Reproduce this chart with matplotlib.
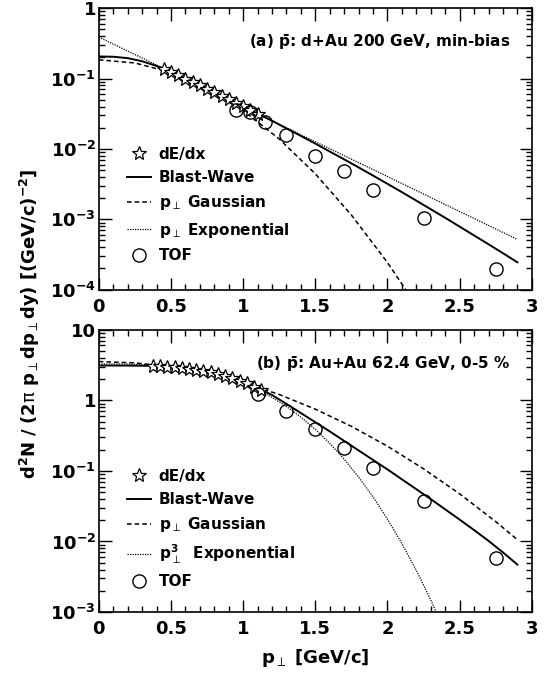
import matplotlib
matplotlib.use("Agg")
import matplotlib.pyplot as plt
from matplotlib.lines import Line2D
from matplotlib.ticker import NullFormatter, MultipleLocator

plt.rcParams['font.family'] = ['DejaVu Sans']
plt.rcParams['mathtext.fontset'] = 'dejavusans'
plt.rcParams['mathtext.default'] = 'regular'

# ---------------- Panel (a): d+Au 200 GeV ----------------
a_dedx_x = [0.45, 0.50, 0.55, 0.60, 0.65, 0.70, 0.75, 0.80, 0.85, 0.90, 0.95, 1.00, 1.05, 1.10]
a_dedx_y = [0.1365, 0.1236, 0.1109, 0.0995, 0.0891, 0.0798, 0.0713, 0.0637, 0.0569, 0.0507,
            0.0452, 0.0403, 0.0358, 0.0318]
a_tof_x = [0.95, 1.05, 1.15, 1.30, 1.50, 1.70, 1.90, 2.25, 2.75]
a_tof_y = [0.036, 0.034, 0.0238, 0.0159, 0.00782, 0.0048, 0.00258, 0.00106, 0.000199]
a_bw_x = [0.0, 0.1, 0.2, 0.3, 0.4, 0.5, 0.6, 0.7, 0.8, 0.9, 1.0, 1.1, 1.2, 1.3, 1.4, 1.5,
          1.6, 1.7, 1.8, 1.9, 2.0, 2.1, 2.2, 2.3, 2.4, 2.5, 2.6, 2.7, 2.8, 2.9]
a_bw_y = [0.206, 0.204, 0.195, 0.176, 0.151, 0.124, 0.0995, 0.0798, 0.0637, 0.0507, 0.0403,
          0.0318, 0.0251, 0.0196, 0.0153, 0.0119, 0.00918, 0.00710, 0.00546, 0.00418, 0.00319,
          0.00243, 0.00184, 0.00139, 0.00105, 0.000787, 0.000590, 0.000442, 0.000330, 0.000245]
a_gaus_x = [0.0, 0.25, 0.5, 0.75, 1.0, 1.25, 1.5, 1.75, 2.0, 2.25]
a_gaus_y = [0.1845, 0.1664, 0.1219, 0.0726, 0.0352, 0.01384, 0.00443, 0.00115, 0.000243, 0.0000418]
a_expo_x = [0.0, 0.5, 1.0, 1.5, 2.0, 2.5, 2.9]
a_expo_y = [0.388, 0.124, 0.0396, 0.01265, 0.00405, 0.00129, 0.000518]

# ---------------- Panel (b): Au+Au 62.4 GeV 0-5% ----------------
b_dedx_x = [0.375, 0.425, 0.475, 0.525, 0.575, 0.625, 0.675, 0.725, 0.775, 0.825, 0.875,
            0.925, 0.975, 1.025, 1.075, 1.125]
b_dedx_y = [3.10, 3.07, 3.01, 2.96, 2.89, 2.81, 2.72, 2.61, 2.49, 2.36, 2.21, 2.06, 1.90,
            1.74, 1.57, 1.42]
b_tof_x = [1.1, 1.3, 1.5, 1.7, 1.9, 2.25, 2.75]
b_tof_y = [1.23, 0.715, 0.393, 0.211, 0.1086, 0.0373, 0.00585]
b_bw_x = [0.0, 0.2, 0.4, 0.5, 0.6, 0.7, 0.8, 0.9, 1.0, 1.1, 1.2, 1.3, 1.4, 1.5, 1.6, 1.7,
          1.8, 1.9, 2.0, 2.1, 2.2, 2.3, 2.4, 2.5, 2.6, 2.7, 2.8, 2.9]
b_bw_y = [3.12, 3.11, 3.08, 2.99, 2.85, 2.66, 2.43, 2.14, 1.82, 1.50, 1.19, 0.891, 0.661,
          0.490, 0.363, 0.266, 0.195, 0.143, 0.105, 0.0759, 0.0550, 0.0398, 0.0285, 0.0204,
          0.0145, 0.0102, 0.0070, 0.0047]
b_gaus_x = [0.0, 0.25, 0.5, 0.75, 1.0, 1.25, 1.5, 1.75, 2.0, 2.25, 2.5, 2.75, 2.9]
b_gaus_y = [3.55, 3.40, 2.99, 2.41, 1.78, 1.21, 0.750, 0.428, 0.224, 0.107, 0.0473, 0.0191, 0.0106]
b_expo_x = [0.0, 0.2, 0.4, 0.6, 0.8, 1.0, 1.1, 1.2, 1.3, 1.4, 1.5, 1.6, 1.7, 1.8, 1.9, 2.0,
            2.1, 2.2, 2.3, 2.4]
b_expo_y = [3.29, 3.27, 3.16, 2.87, 2.38, 1.75, 1.42, 1.10, 0.818, 0.578, 0.388, 0.246, 0.147,
            0.0818, 0.0428, 0.0207, 0.00933, 0.00388, 0.00148, 0.000519]

x_ticks = [0, 0.5, 1, 1.5, 2, 2.5, 3]
x_labels = ['0', '0.5', '1', '1.5', '2', '2.5', '3']
a_yticks = [1e-4, 1e-3, 1e-2, 1e-1, 1]
a_ylabels = [r'$\mathbf{10^{-4}}$', r'$\mathbf{10^{-3}}$', r'$\mathbf{10^{-2}}$', r'$\mathbf{10^{-1}}$', '1']
b_yticks = [1e-3, 1e-2, 1e-1, 1, 10]
b_ylabels = [r'$\mathbf{10^{-3}}$', r'$\mathbf{10^{-2}}$', r'$\mathbf{10^{-1}}$', '1', '10']

PT = r'\mathbf{p}_{\mathrm{\perp}}'
a_title = r'(a) $\bar{\mathbf{p}}$: d+Au 200 GeV, min-bias'
b_title = r'(b) $\bar{\mathbf{p}}$: Au+Au 62.4 GeV, 0-5 %'
a_labels = ['dE/dx', 'Blast-Wave', '$' + PT + '$ Gaussian', '$' + PT + '$ Exponential', 'TOF']
b_labels = ['dE/dx', 'Blast-Wave', '$' + PT + '$ Gaussian',
            r'$\mathbf{p}_{\mathrm{\perp}}^{\mathbf{3}}$  Exponential', 'TOF']

fig = plt.figure(figsize=(5.46, 6.8), dpi=100)
ax_a = fig.add_axes([0.181, 0.574, 0.793, 0.414])
ax_b = fig.add_axes([0.181, 0.100, 0.793, 0.415])

star_kw = dict(marker='*', linestyle='none', markersize=10.5, markerfacecolor='white',
               markeredgecolor='black', markeredgewidth=0.9)
circ_kw = dict(marker='o', linestyle='none', markersize=9.5, markerfacecolor='none',
               markeredgecolor='black', markeredgewidth=1.0)


def draw(ax, dx, dy, tx, ty, bx, by, gx, gy, ex, ey, ylim, yt, yl, title, labels):
    ax.set_yscale('log')
    ax.plot(bx, by, color='black', lw=1.4, linestyle='-')
    ax.plot(gx, gy, color='black', lw=1.1, linestyle=(0, (3, 2)))
    ax.plot(ex, ey, color='black', lw=0.9, linestyle=(0, (1, 1)))
    ax.plot(dx, dy, **star_kw)
    ax.plot(tx, ty, **circ_kw)
    ax.set_xlim(0, 3)
    ax.set_ylim(*ylim)
    ax.set_xticks(x_ticks)
    ax.set_xticklabels(x_labels, fontweight='bold')
    ax.xaxis.set_minor_locator(MultipleLocator(0.1))
    ax.set_yticks(yt)
    ax.set_yticklabels(yl, fontweight='bold')
    ax.yaxis.set_minor_formatter(NullFormatter())
    ax.tick_params(which='both', direction='in', top=True, right=True, width=1.0,
                   labelsize=13)
    ax.tick_params(which='major', length=9)
    ax.tick_params(which='minor', length=4.5)
    ax.tick_params(axis='x', pad=6)
    ax.tick_params(axis='y', pad=2)
    for s in ax.spines.values():
        s.set_linewidth(1.2)
    ax.text(0.95, 0.88, title, transform=ax.transAxes, ha='right', va='center',
            fontsize=11, fontweight='bold')
    lines_h = [Line2D([], [], **star_kw),
               Line2D([], [], color='black', lw=1.4),
               Line2D([], [], color='black', lw=1.1, linestyle=(0, (3, 2))),
               Line2D([], [], color='black', lw=0.9, linestyle=(0, (1, 1))),
               Line2D([], [], **circ_kw)]
    leg = ax.legend(lines_h, labels, loc='upper left', bbox_to_anchor=(0.05, 0.53),
                    frameon=False, fontsize=11, handlelength=1.6, handletextpad=0.5,
                    labelspacing=0.55, borderaxespad=0)
    for t in leg.get_texts():
        t.set_fontweight('bold')


draw(ax_a, a_dedx_x, a_dedx_y, a_tof_x, a_tof_y, a_bw_x, a_bw_y, a_gaus_x, a_gaus_y,
     a_expo_x, a_expo_y, (1e-4, 1), a_yticks, a_ylabels, a_title, a_labels)
draw(ax_b, b_dedx_x, b_dedx_y, b_tof_x, b_tof_y, b_bw_x, b_bw_y, b_gaus_x, b_gaus_y,
     b_expo_x, b_expo_y, (1e-3, 10), b_yticks, b_ylabels, b_title, b_labels)

ax_b.set_xlabel('$' + PT + '$ [GeV/c]', fontsize=13, fontweight='bold', labelpad=6)
fig.text(0.055, 0.524,
         r'$\mathbf{d^{2}N\ /\ (2}\pi\ ' + PT + r'\mathbf{dp}_{\mathrm{\perp}}\mathbf{dy)\ [(GeV/c)^{-2}]}$',
         rotation=90, ha='center', va='center', fontsize=13)

fig.savefig('out.png', dpi=100)
